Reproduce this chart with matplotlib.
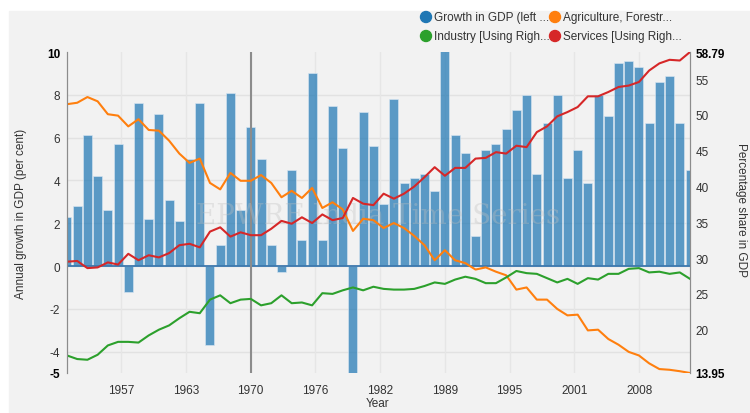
import matplotlib
matplotlib.use("Agg")
import matplotlib.pyplot as plt
import numpy as np

plt.rcParams['font.family'] = ['Liberation Sans', 'DejaVu Sans']

# fiscal years 1951-52 ... 2012-13, plotted at the end year
years = np.arange(1952, 2014)

gdp_growth = [2.3, 2.8, 6.1, 4.2, 2.6, 5.7, -1.2, 7.6, 2.2, 7.1,
              3.1, 2.1, 5.0, 7.6, -3.7, 1.0, 8.1, 2.6, 6.5, 5.0,
              1.0, -0.3, 4.5, 1.2, 9.0, 1.2, 7.5, 5.5, -5.2, 7.2,
              5.6, 2.9, 7.8, 3.9, 4.1, 4.3, 3.5, 10.2, 6.1, 5.3,
              1.4, 5.4, 5.7, 6.4, 7.3, 8.0, 4.3, 6.7, 8.0, 4.1,
              5.4, 3.9, 8.0, 7.0, 9.5, 9.6, 9.3, 6.7, 8.6, 8.9,
              6.7, 4.5]

agriculture = [51.5, 51.7, 52.5, 51.9, 50.1, 49.9, 48.4, 49.4, 47.9, 47.8,
               46.4, 44.6, 43.3, 43.9, 40.5, 39.6, 41.9, 40.8, 40.8, 41.6,
               40.5, 38.5, 39.4, 38.4, 39.8, 37.0, 37.8, 36.8, 33.8, 35.5,
               35.3, 34.2, 34.9, 34.2, 33.1, 31.8, 29.7, 31.1, 29.7, 29.3,
               28.4, 28.7, 28.1, 27.6, 25.6, 25.9, 24.2, 24.2, 22.9, 22.0,
               22.1, 19.9, 20.0, 18.7, 17.9, 16.9, 16.4, 15.3, 14.5, 14.4,
               14.2, 13.95]

industry = [16.4, 15.9, 15.8, 16.5, 17.8, 18.3, 18.3, 18.2, 19.2, 20.0,
            20.6, 21.6, 22.5, 22.3, 24.2, 24.8, 23.7, 24.2, 24.3, 23.4,
            23.7, 24.8, 23.7, 23.8, 23.4, 25.1, 25.0, 25.5, 25.9, 25.5,
            26.0, 25.7, 25.6, 25.6, 25.7, 26.1, 26.6, 26.4, 27.0, 27.4,
            27.1, 26.5, 26.5, 27.3, 28.2, 27.9, 27.8, 27.2, 26.6, 27.1,
            26.4, 27.2, 27.0, 27.8, 27.8, 28.5, 28.6, 28.0, 28.1, 27.8,
            28.0, 27.1]

services = [29.5, 29.6, 28.6, 28.7, 29.4, 29.1, 30.6, 29.7, 30.4, 30.1,
            30.7, 31.8, 32.0, 31.5, 33.7, 34.3, 33.0, 33.6, 33.2, 33.2,
            34.1, 35.2, 34.8, 35.7, 34.9, 36.1, 35.3, 35.6, 38.4, 37.6,
            37.4, 39.0, 38.3, 39.0, 40.0, 41.3, 42.7, 41.5, 42.6, 42.6,
            43.9, 44.0, 44.8, 44.6, 45.7, 45.5, 47.6, 48.4, 49.8, 50.4,
            51.1, 52.6, 52.6, 53.2, 53.9, 54.1, 54.6, 56.2, 57.2, 57.7,
            57.6, 58.79]

x_tick_labels = ['1957', '1963', '1970', '1976', '1982', '1989', '1995', '2001', '2008']
left_ticks = [-5, -4, -2, 0, 2, 4, 6, 8, 10]
right_ticks = [13.95, 20, 25, 30, 35, 40, 45, 50, 55, 58.79]

legend_names = ['Growth in GDP (left ...', 'Agriculture, Forestr...',
                'Industry [Using Righ...', 'Services [Using Righ...']
colors = ['#1f77b4', '#ff7f0e', '#2ca02c', '#d62728']

fig = plt.figure(figsize=(7.5, 4.14), dpi=100, facecolor='white')
bg = plt.Rectangle((9 / 750, 0), 1, 1 - 12 / 414, transform=fig.transFigure,
                   color='#f2f2f2', zorder=-10)
fig.patches.append(bg)

ax = fig.add_axes([67 / 750, 1 - 374 / 414, 623 / 750, 321 / 414])
ax.set_facecolor('none')
ax2 = ax.twinx()

ax.set_xlim(years[0], years[-1])
ax.set_ylim(-5, 10)
ax2.set_ylim(13.95, 58.79)

# grid
xticks = np.linspace(1957.29, 2008.02, len(x_tick_labels))
for t in left_ticks[1:-1]:
    ax.axhline(t, color='#e2e2e2', lw=1, zorder=0)
for t in xticks:
    ax.axvline(t, color='#e6e6e6', lw=1, zorder=0)
ax.axvline(xticks[2], color='#8c8c8c', lw=1.5, zorder=3)

ax.bar(years, gdp_growth, width=0.88, color=colors[0], alpha=0.72,
       edgecolor='#d8e6f2', linewidth=0.6, zorder=2)
ax.axhline(0, color='#3d78ad', lw=1.3, zorder=2.5)

ax2.plot(years, agriculture, color=colors[1], lw=1.5)
ax2.plot(years, industry, color=colors[2], lw=1.5)
ax2.plot(years, services, color=colors[3], lw=1.5)

for a in (ax, ax2):
    for s in ['top', 'bottom']:
        a.spines[s].set_visible(False)
    a.spines['left'].set_color('#8c8c8c')
    a.spines['right'].set_color('#8c8c8c')
    a.tick_params(length=0, labelsize=8.5, colors='#333333')

ax.set_xticks(xticks)
ax.set_xticklabels(x_tick_labels)
ax.tick_params(axis='x', pad=8)

ax.set_yticks(left_ticks)
ax.set_yticklabels([str(t) for t in left_ticks])
ax.tick_params(axis='y', pad=5)
for lab in (ax.get_yticklabels()[0], ax.get_yticklabels()[-1]):
    lab.set_fontweight('bold')
    lab.set_color('black')

ax2.set_yticks(right_ticks)
ax2.set_yticklabels(['13.95'] + [str(t) for t in right_ticks[1:-1]] + ['58.79'])
ax2.tick_params(axis='y', pad=4)
for lab in (ax2.get_yticklabels()[0], ax2.get_yticklabels()[-1]):
    lab.set_fontweight('bold')
    lab.set_color('black')

fig.text(378 / 750, 1 - 404 / 414, 'Year', fontsize=8.5, color='#333333',
         ha='center', va='center')
ax.set_ylabel('Annual growth in GDP (per cent)', fontsize=8.5, color='#333333', labelpad=14)
fig.text(735 / 750, 1 - 210 / 414, 'Percentage share in GDP', rotation=270,
         fontsize=8.5, color='#333333', ha='left', va='center')

# watermark
ax.text(0.5, 0.49, 'EPWRF India Time Series', transform=ax.transAxes,
        family='DejaVu Serif', fontsize=20, color='#bfbfbf', alpha=0.35,
        ha='center', va='center', zorder=5)

# legend
leg_pos = [(426, 18), (555, 18), (426, 37), (555, 37)]
for (px, py), name, c in zip(leg_pos, legend_names, colors):
    fig.patches.append(matplotlib.patches.Ellipse((px / 750, 1 - py / 414), 11 / 750, 11 / 414,
                                                  transform=fig.transFigure, color=c))
    fig.text((px + 8) / 750, 1 - py / 414, name, fontsize=8.5, color='#333333',
             ha='left', va='center')

fig.savefig('out.png', dpi=100, facecolor=fig.get_facecolor())
